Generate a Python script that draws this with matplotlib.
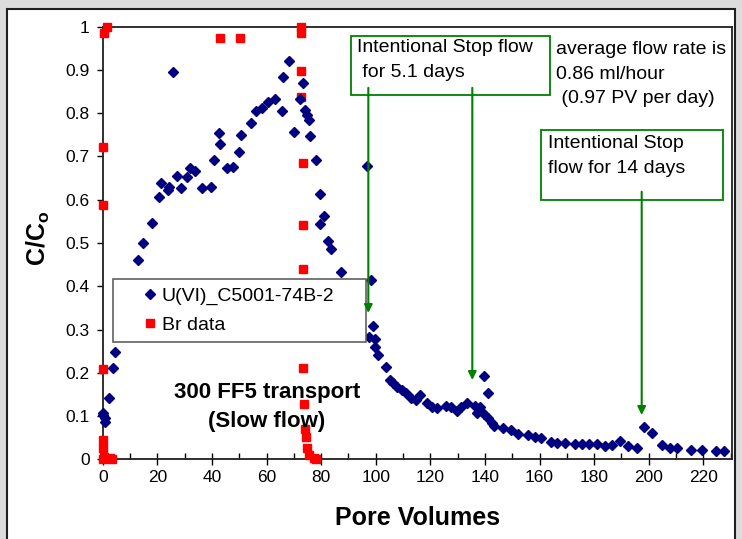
import numpy as np
import matplotlib
matplotlib.use("Agg")
import matplotlib.pyplot as plt
from matplotlib.patches import Rectangle
from matplotlib.ticker import MultipleLocator, FuncFormatter

plt.rcParams['font.family'] = ['Liberation Sans', 'DejaVu Sans']
plt.rcParams['mathtext.fontset'] = 'custom'
plt.rcParams['mathtext.bf'] = 'Liberation Sans:bold'
plt.rcParams['mathtext.rm'] = 'Liberation Sans'

# U(VI) effluent data (pore volumes, C/Co)
u_pv = [0.0, 0.2, 0.8, 0.8, 2.3, 3.8, 4.6,
        12.8, 14.9, 17.9, 20.7, 21.4, 24.0, 24.4, 25.6, 27.3, 28.6, 31.0, 32.1, 33.8,
        36.2, 39.6, 40.8, 42.5, 43.0, 45.4, 47.8, 50.0, 50.7, 54.2, 56.2, 58.2, 60.7,
        63.1, 65.6, 65.9, 68.4, 70.1, 72.3, 73.3, 74.2, 74.8, 75.5, 76.0, 78.3, 79.5,
        81.1, 79.5, 82.4, 83.6, 87.2, 96.7, 98.2, 98.9, 97.5, 99.6, 99.9, 100.8,
        103.6, 105.1, 106.4, 107.9, 109.5, 111.1, 112.8, 114.8, 116.2, 118.9, 120.5,
        122.6, 125.8, 127.6, 129.7, 131.1, 133.3, 136.5, 137.2, 138.2, 139.7, 139.6,
        141.1, 141.2, 142.5, 143.3, 146.6, 149.5, 152.2, 155.9, 158.2, 160.4, 164.1,
        166.5, 169.3, 173.0, 175.5, 178.2, 180.9, 183.9, 186.4, 189.4, 192.4, 195.8,
        198.4, 201.1, 205.0, 207.7, 210.5, 215.6, 219.6, 224.6, 227.6]
u_c = [0.102, 0.107, 0.095, 0.087, 0.141, 0.210, 0.248,
       0.461, 0.501, 0.546, 0.606, 0.638, 0.622, 0.630, 0.896, 0.654, 0.626, 0.653, 0.673, 0.667,
       0.626, 0.629, 0.693, 0.754, 0.730, 0.673, 0.676, 0.711, 0.750, 0.778, 0.804, 0.811, 0.827,
       0.834, 0.806, 0.884, 0.921, 0.756, 0.833, 0.871, 0.808, 0.797, 0.785, 0.748, 0.693, 0.613,
       0.562, 0.544, 0.505, 0.486, 0.433, 0.678, 0.414, 0.307, 0.283, 0.278, 0.260, 0.242,
       0.214, 0.184, 0.177, 0.168, 0.160, 0.153, 0.141, 0.137, 0.149, 0.129, 0.122,
       0.118, 0.123, 0.120, 0.112, 0.120, 0.129, 0.124, 0.108, 0.122, 0.192, 0.104,
       0.154, 0.095, 0.085, 0.076, 0.072, 0.068, 0.058, 0.056, 0.052, 0.049, 0.041,
       0.038, 0.038, 0.035, 0.035, 0.035, 0.035, 0.031, 0.033, 0.042, 0.030, 0.025,
       0.075, 0.060, 0.033, 0.025, 0.025, 0.021, 0.021, 0.019, 0.019]

# Br tracer data
br_pv = [0.0, 0.0, 0.0, 0.0, 0.0, 0.0, 0.4, 1.7, 0.5, 2.6, 3.3,
         42.8, 50.4,
         72.6, 72.6, 72.8, 72.8, 73.2, 73.3, 73.3, 73.4, 73.8, 74.2, 74.6, 74.9, 75.5, 77.3, 78.2]
br_c = [0.0, 0.025, 0.045, 0.209, 0.588, 0.722, 0.985, 1.0, 0.005, 0.002, 0.0,
        0.975, 0.975,
        1.0, 0.985, 0.898, 0.838, 0.684, 0.541, 0.441, 0.212, 0.128, 0.070, 0.052, 0.025, 0.010, 0.002, 0.0]

green = '#008000'

fig = plt.figure(figsize=(7.42, 5.39), dpi=100)
fig.patch.set_facecolor('#dcdcdc')
# white chart area with dark frame (top/left)
fig.add_artist(Rectangle((7 / 742, -0.01), 728 / 742, (539 - 9) / 539 + 0.01,
                         transform=fig.transFigure, facecolor='white',
                         edgecolor='#202020', lw=1.5, zorder=0))

ax = fig.add_axes([102.7 / 742, 79.7 / 539, 629 / 742, 432.6 / 539])
ax.set_facecolor('none')

ax.plot(u_pv, u_c, linestyle='none', marker='D', ms=5.2, color='#000080',
        label='U(VI)_C5001-74B-2', clip_on=False, zorder=4)
ax.plot(br_pv, br_c, linestyle='none', marker='s', ms=6, color='#ff0000',
        label='Br data', clip_on=False, zorder=3)

ax.set_xlim(0, 230.4)
ax.set_ylim(0, 1)
ax.xaxis.set_major_locator(MultipleLocator(20))
ax.xaxis.set_minor_locator(MultipleLocator(10))
ax.yaxis.set_major_locator(MultipleLocator(0.1))
ax.yaxis.set_major_formatter(FuncFormatter(lambda v, p: '%g' % round(v, 2)))
ax.tick_params(axis='x', which='major', direction='inout', length=8, width=1, labelsize=12.5, pad=4)
ax.tick_params(axis='x', which='minor', direction='in', length=4, width=1)
ax.tick_params(axis='y', which='major', direction='out', length=4.5, width=1, labelsize=12.5, pad=5)
for s in ax.spines.values():
    s.set_linewidth(1.3)
    s.set_color('#202020')

ax.set_xlabel('Pore Volumes', fontsize=18, fontweight='bold', va='center')
ax.xaxis.set_label_coords(0.5, -0.136)
ax.set_ylabel(r'$\mathbf{C/C_o}$', fontsize=18, va='center')
ax.yaxis.set_label_coords(-0.103, 0.51)

leg = ax.legend(loc='upper left', bbox_to_anchor=(0.0169, 0.416, 0.401, 0.0),
                mode='expand', borderaxespad=0, fontsize=14, fancybox=False,
                framealpha=1, edgecolor='#606060', borderpad=0.4, labelspacing=0.6,
                handlelength=3.0, handletextpad=-0.9, numpoints=1)
leg.get_frame().set_linewidth(1.2)

ax.text(0.2612, 0.122, '300 FF5 transport\n(Slow flow)', transform=ax.transAxes,
        ha='center', va='center', multialignment='center', fontsize=16,
        fontweight='bold', linespacing=1.5)

# annotation boxes
ax.add_patch(Rectangle((0.3948, 0.842), 0.7112 - 0.3948, 0.9785 - 0.842,
                       transform=ax.transAxes, facecolor='white', edgecolor=green,
                       lw=1.3, zorder=2, clip_on=False))
ax.text(0.4043, 0.9223, 'Intentional Stop flow\n for 5.1 days', transform=ax.transAxes,
        ha='left', va='center', fontsize=14, linespacing=1.6, zorder=5)

ax.add_patch(Rectangle((0.6963, 0.5994), 0.9866 - 0.6963, 0.7612 - 0.5994,
                       transform=ax.transAxes, facecolor='white', edgecolor=green,
                       lw=1.3, zorder=2, clip_on=False))
ax.text(0.708, 0.701, 'Intentional Stop\nflow for 14 days', transform=ax.transAxes,
        ha='left', va='center', fontsize=14, linespacing=1.6, zorder=5)

ax.text(0.7207, 0.8906, 'average flow rate is\n0.86 ml/hour\n (0.97 PV per day)',
        transform=ax.transAxes, ha='left', va='center', fontsize=14,
        linespacing=1.6, zorder=5)

for xa, y0, y1 in [(0.4223, 0.8586, 0.3382), (0.5876, 0.8586, 0.1833), (0.8569, 0.6186, 0.1024)]:
    ax.annotate('', xy=(xa, y1), xytext=(xa, y0), xycoords='axes fraction',
                textcoords='axes fraction', zorder=6,
                arrowprops=dict(arrowstyle='-|>', color=green, lw=1.5,
                                mutation_scale=12, shrinkA=0, shrinkB=0))

fig.savefig('out.png', dpi=100, facecolor=fig.get_facecolor())
